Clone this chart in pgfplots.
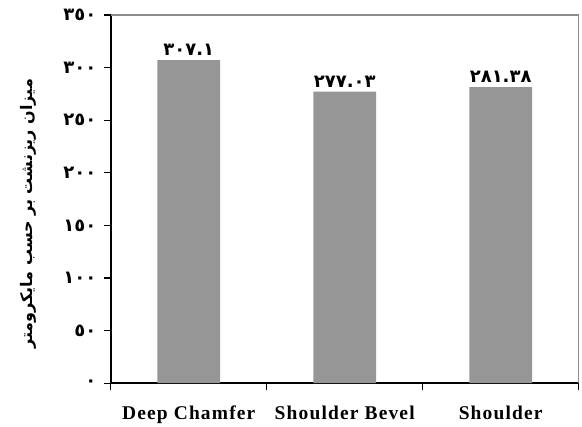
\documentclass[border=0pt]{standalone}
\usepackage{fontspec}
\setmainfont{Liberation Serif}
\newfontfamily\arabicfont[Script=Arabic]{DejaVu Sans}
\TeXXeTstate=1
\usepackage{pgfplots}
\pgfplotsset{compat=1.18}
\definecolor{barfill}{HTML}{969696}
\definecolor{frameg}{HTML}{8C8C8C}
\begin{document}
\begin{tikzpicture}
\begin{axis}[
    scale only axis,
    width=469pt, height=369pt,
    xmin=-0.5, xmax=2.5,
    ymin=0, ymax=350,
    axis x line*=bottom,
    axis y line*=left,
    axis line style={line width=1.6pt, black, -},
    ytick={0,50,...,350},
    yticklabels={٠,٥٠,١٠٠,١٥٠,٢٠٠,٢٥٠,٣٠٠,٣٥٠},
    yticklabel style={font=\arabicfont\bfseries\fontsize{18}{20}\selectfont, xshift=-4pt},
    ytick style={line width=1.2pt, black},
    tick align=outside,
    major tick length=7pt,
    xtick={0,1,2},
    xticklabels={Deep Chamfer, Shoulder Bevel, Shoulder},
    xticklabel style={font=\bfseries\fontsize{19.5}{21}\selectfont\addfontfeatures{LetterSpace=6}, yshift=-12pt},
    xtick style={draw=none},
    extra x ticks={-0.5,0.5,1.5,2.5},
    extra x tick labels={},
    extra x tick style={xtick style={line width=1.2pt, black, draw=black}, major tick length=7pt},
    ylabel={\arabicfont\bfseries\beginR میزان ریزنشت بر حسب مایکرومتر\endR},
    ylabel style={font=\fontsize{16}{18}\selectfont, at={(axis description cs:-0.177,0.46)}, anchor=center},
    nodes near coords,
    point meta=explicit symbolic,
    every node near coord/.append style={font=\arabicfont\bfseries\fontsize{18}{20}\selectfont, inner sep=4pt},
    clip=false,
]
\addplot[ybar, bar width=63pt, fill=barfill, draw=none] coordinates {
    (0,307.1) [٣٠٧.١]
    (1,277.03) [٢٧٧.٠٣]
    (2,281.38) [٢٨١.٣٨]
};
\draw[frameg, line width=1.6pt] (rel axis cs:0,1) -- (rel axis cs:1,1) -- (rel axis cs:1,0);
\end{axis}
\path (current axis.south west) ++(-111pt,-43pt) rectangle ++(582pt,427pt);
\end{tikzpicture}
\end{document}
